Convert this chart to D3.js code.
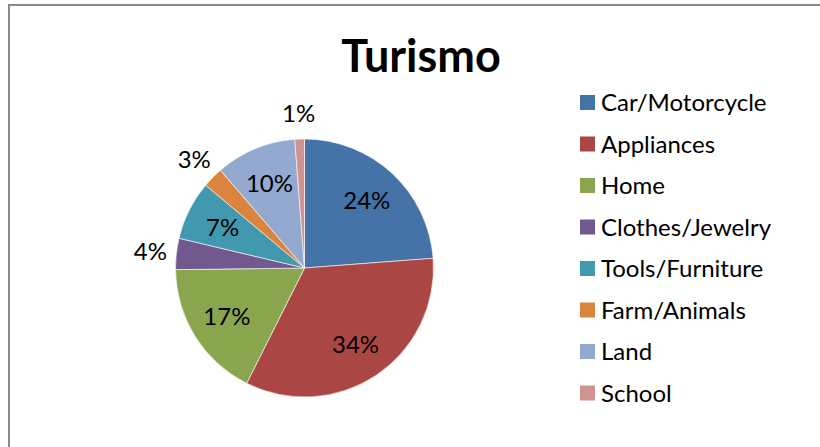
<!DOCTYPE html>
<html>
<head>
<meta charset="utf-8">
<script src="https://cdn.jsdelivr.net/npm/d3@7"></script>
<style>
	body { margin: 0; background: #fff; }
	text { font-family: Lato, "Open Sans", sans-serif; fill: #000; }
</style>
</head>
<body>
<div id="chart-area"></div>
<script>

// SVG Size
var width = 820,
	height = 447;

// data (share of total, %)
var categories = ["Car/Motorcycle", "Appliances", "Home", "Clothes/Jewelry",
	"Tools/Furniture", "Farm/Animals", "Land", "School"];
var shares = [23.8, 33.6, 17.4, 3.9, 7.4, 2.6, 10.1, 1.2];
var colors = ["#4573A7", "#AA4643", "#89A54E", "#71588F",
	"#4198AF", "#DB843D", "#93A9CF", "#D19392"];

var data = categories.map(function(c, i) {
	return { name: c, value: shares[i] };
});

var svg = d3.select("#chart-area").append("svg")
	.attr("width", width)
	.attr("height", height);

// chart frame
svg.append("path")
	.attr("d", "M9,447 V5 H820")
	.attr("fill", "none")
	.attr("stroke", "#8a8a8a")
	.attr("stroke-width", 2);

// title
svg.append("text")
	.attr("x", 421)
	.attr("y", 72)
	.attr("text-anchor", "middle")
	.attr("font-size", 45)
	.attr("font-weight", "bold")
	.text("Turismo");

var radius = 129;
var cx = 304.5, cy = 268;

var color = d3.scaleOrdinal()
	.domain(categories)
	.range(colors);

var pie = d3.pie()
	.value(function(d) { return d.value; })
	.sort(null);

var arc = d3.arc()
	.innerRadius(0)
	.outerRadius(radius);

var inLabel = d3.arc()
	.innerRadius(radius * 0.71)
	.outerRadius(radius * 0.71);

var outLabel = d3.arc()
	.innerRadius(radius + 26)
	.outerRadius(radius + 26);

var g = svg.append("g")
	.attr("transform", "translate(" + cx + "," + cy + ")");

var arcs = pie(data);

g.selectAll("path.slice")
	.data(arcs)
	.enter()
	.append("path")
	.attr("class", "slice")
	.attr("d", arc)
	.attr("fill", function(d) { return color(d.data.name); })
	.attr("stroke", "#fff")
	.attr("stroke-width", 0.6);

// percent labels, small slices go outside
g.selectAll("text.pct")
	.data(arcs)
	.enter()
	.append("text")
	.attr("class", "pct")
	.attr("transform", function(d) {
		var p = d.data.value < 5 ? outLabel.centroid(d) : inLabel.centroid(d);
		return "translate(" + p[0] + "," + p[1] + ")";
	})
	.attr("text-anchor", "middle")
	.attr("dy", "0.36em")
	.attr("font-size", 24)
	.text(function(d) { return Math.round(d.data.value) + "%"; });

// legend
var legendY = d3.scalePoint()
	.domain(categories)
	.range([102.5, 393]);

var legend = svg.selectAll("g.legend")
	.data(categories)
	.enter()
	.append("g")
	.attr("class", "legend")
	.attr("transform", function(d) { return "translate(580," + legendY(d) + ")"; });

legend.append("rect")
	.attr("x", 0)
	.attr("y", -7.5)
	.attr("width", 15)
	.attr("height", 15)
	.attr("fill", function(d) { return color(d); });

legend.append("text")
	.attr("x", 21)
	.attr("y", 8.5)
	.attr("font-size", 24)
	.text(function(d) { return d; });

</script>
</body>
</html>
